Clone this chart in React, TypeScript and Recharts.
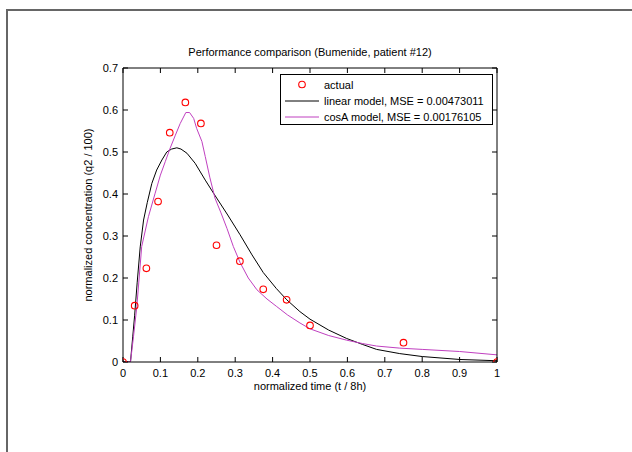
import React from 'react';
import { ComposedChart, Line, Scatter, XAxis, YAxis } from 'recharts';

const TITLE = 'Performance comparison (Bumenide, patient #12)';
const X_LABEL = 'normalized time (t / 8h)';
const Y_LABEL = 'normalized concentration (q2 / 100)';

const xTicks = [0, 0.1, 0.2, 0.3, 0.4, 0.5, 0.6, 0.7, 0.8, 0.9, 1];
const yTicks = [0, 0.1, 0.2, 0.3, 0.4, 0.5, 0.6, 0.7];

const actualT = [0, 0.03125, 0.0625, 0.09375, 0.125, 0.1667, 0.2083, 0.25, 0.3125, 0.375, 0.4375, 0.5, 0.75, 1];
const actualV = [0, 0.134, 0.223, 0.382, 0.546, 0.618, 0.568, 0.278, 0.24, 0.173, 0.148, 0.087, 0.046, 0];

const linearT = [0, 0.02, 0.026, 0.031, 0.038, 0.046, 0.055, 0.065, 0.077, 0.09, 0.104, 0.117, 0.13, 0.144, 0.155, 0.171, 0.193, 0.22, 0.242, 0.28, 0.313, 0.345, 0.375, 0.41, 0.438, 0.473, 0.5, 0.55, 0.598, 0.64, 0.678, 0.74, 0.8, 0.9, 1];
const linearV = [0, 0, 0.06, 0.11, 0.19, 0.274, 0.338, 0.38, 0.425, 0.457, 0.481, 0.5, 0.507, 0.51, 0.507, 0.497, 0.473, 0.433, 0.402, 0.35, 0.303, 0.255, 0.213, 0.175, 0.148, 0.12, 0.102, 0.076, 0.056, 0.042, 0.03, 0.02, 0.013, 0.006, 0.003];

const cosAT = [0, 0.02, 0.028, 0.037, 0.05, 0.068, 0.086, 0.1, 0.113, 0.126, 0.14, 0.153, 0.168, 0.178, 0.189, 0.197, 0.211, 0.22, 0.232, 0.246, 0.262, 0.278, 0.295, 0.313, 0.335, 0.358, 0.385, 0.411, 0.44, 0.473, 0.5, 0.55, 0.598, 0.64, 0.678, 0.74, 0.8, 0.9, 1];
const cosAV = [0, 0, 0.06, 0.132, 0.275, 0.346, 0.402, 0.445, 0.477, 0.509, 0.54, 0.568, 0.594, 0.594, 0.58, 0.556, 0.525, 0.489, 0.44, 0.39, 0.355, 0.318, 0.275, 0.237, 0.2, 0.172, 0.15, 0.132, 0.112, 0.093, 0.079, 0.063, 0.052, 0.044, 0.038, 0.033, 0.03, 0.025, 0.017];

const legendLabels = ['actual', 'linear model, MSE = 0.00473011', 'cosA model, MSE = 0.00176105'];

const zip = (ts: number[], vs: number[]) => ts.map((t, i) => ({ t, v: vs[i] }));
const actualData = zip(actualT, actualV);
const linearData = zip(linearT, linearV);
const cosAData = zip(cosAT, cosAV);

const FONT = '"Liberation Sans", Arial, sans-serif';
const RED = '#ff0000';
const MAGENTA = '#c040c0';
const FS = 11;
const tickStyle = { fontSize: FS, fontFamily: FONT, fill: '#000' };

const RedCircle = (props: any) => (
  <circle cx={props.cx} cy={props.cy} r={3.3} fill="none" stroke={RED} strokeWidth={1.1} />
);

export default function App() {
  return (
    <div style={{ position: 'fixed', left: 0, top: 0, width: 632, height: 452, overflow: 'hidden', background: '#fff', fontFamily: FONT }}>
      <div style={{ position: 'absolute', left: 6, top: 9, width: 700, height: 500, borderLeft: '2px solid #666', borderTop: '2px solid #666' }} />
      <div style={{ position: 'absolute', left: 0, top: 0 }}>
        <ComposedChart width={632} height={452} margin={{ top: 63, right: 130, bottom: 85, left: 5 }}>
          <XAxis xAxisId={0} type="number" dataKey="t" domain={[0, 1]} ticks={xTicks} allowDataOverflow
            orientation="bottom" height={5} tickSize={-5} tickMargin={12} interval={0}
            stroke="#000" tick={tickStyle} tickLine={{ stroke: '#000' }} />
          <XAxis xAxisId="top" type="number" dataKey="t" domain={[0, 1]} ticks={xTicks} allowDataOverflow
            orientation="top" height={5} tickSize={-5} interval={0} tickFormatter={() => ''}
            stroke="#000" tickLine={{ stroke: '#000' }} />
          <YAxis yAxisId={0} type="number" domain={[0, 0.7]} ticks={yTicks} allowDataOverflow
            orientation="left" width={118} tickSize={-5} tickMargin={10} interval={0}
            stroke="#000" tick={tickStyle} tickLine={{ stroke: '#000' }} />
          <YAxis yAxisId="right" type="number" domain={[0, 0.7]} ticks={yTicks} allowDataOverflow
            orientation="right" width={5} tickSize={-5} interval={0} tickFormatter={() => ''}
            stroke="#000" tickLine={{ stroke: '#000' }} />
          <Line data={linearData} dataKey="v" type="linear" stroke="#000" strokeWidth={1} dot={false} isAnimationActive={false} />
          <Line data={cosAData} dataKey="v" type="linear" stroke={MAGENTA} strokeWidth={1} dot={false} isAnimationActive={false} />
          <Scatter data={actualData} dataKey="v" shape={RedCircle} isAnimationActive={false} />
        </ComposedChart>
      </div>
      <div style={{ position: 'absolute', left: 310, top: 52, transform: 'translate(-50%, -50%)', fontSize: FS, whiteSpace: 'nowrap', color: '#000' }}>{TITLE}</div>
      <div style={{ position: 'absolute', left: 310, top: 386, transform: 'translate(-50%, -50%)', fontSize: FS, whiteSpace: 'nowrap', color: '#000' }}>{X_LABEL}</div>
      <div style={{ position: 'absolute', left: 88, top: 215, transform: 'translate(-50%, -50%) rotate(-90deg)', fontSize: FS, whiteSpace: 'nowrap', color: '#000' }}>{Y_LABEL}</div>
      <svg style={{ position: 'absolute', left: 280, top: 74 }} width={214} height={52}>
        <rect x={0.5} y={0.5} width={212} height={50} fill="#fff" stroke="#000" strokeWidth={1} />
        <circle cx={22} cy={10.5} r={3.3} fill="none" stroke={RED} strokeWidth={1.1} />
        <line x1={5} x2={39} y1={27} y2={27} stroke="#000" strokeWidth={1} />
        <line x1={5} x2={39} y1={43} y2={43} stroke={MAGENTA} strokeWidth={1} />
        {legendLabels.map((s, i) => (
          <text key={s} x={44} y={11 + i * 16 + 4} fontSize={FS} fontFamily={FONT} fill="#000">{s}</text>
        ))}
      </svg>
    </div>
  );
}
